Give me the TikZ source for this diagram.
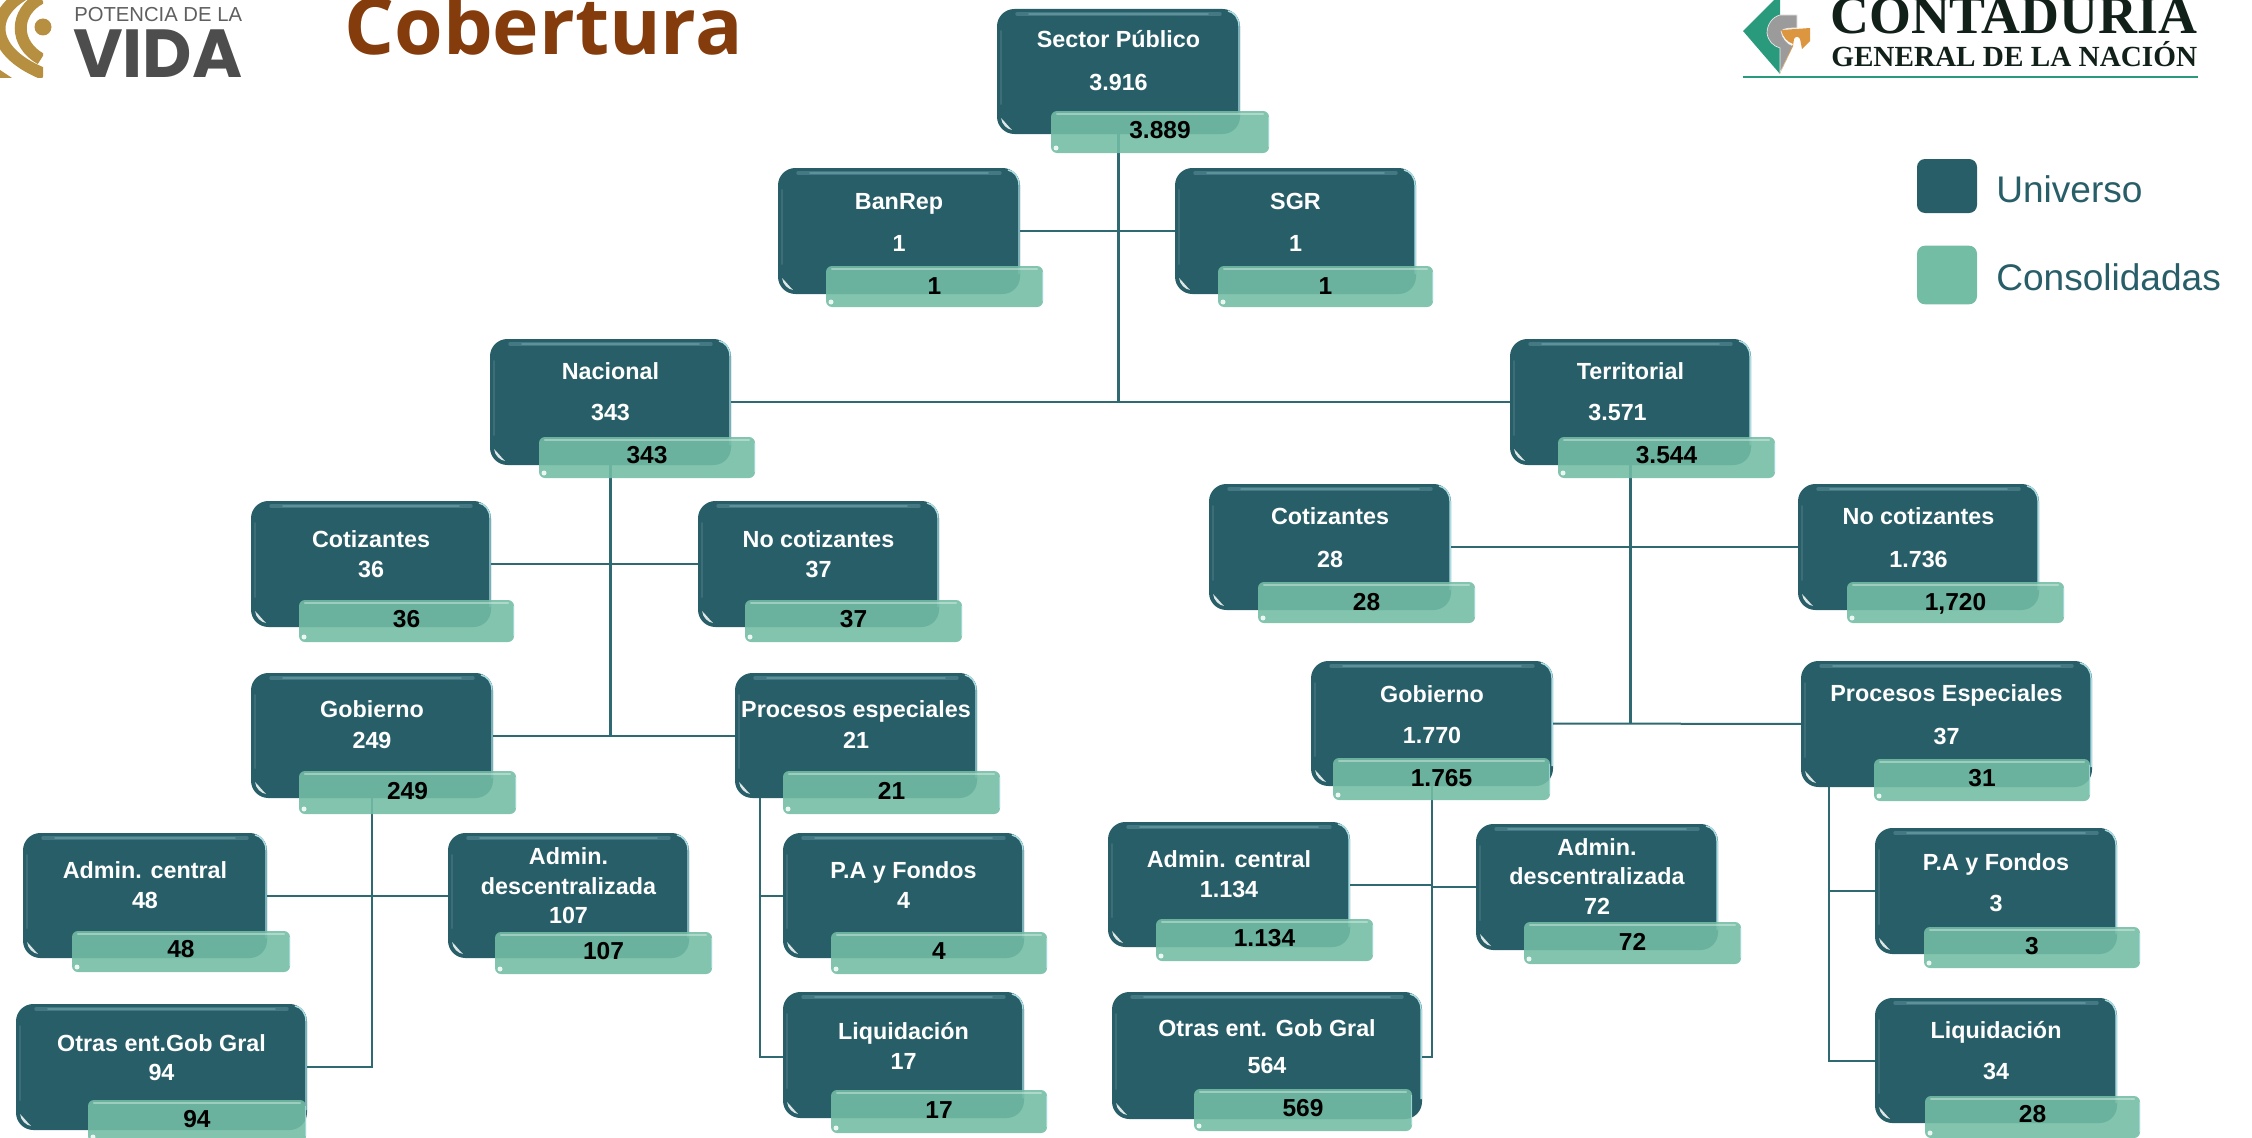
\documentclass[tikz,border=0pt]{standalone}
\usepackage{fontspec}
\setmainfont{Liberation Sans}
\newfontfamily\titlefont{Open Sans}
\newfontfamily\vidafont{Poppins}
\newfontfamily\cgnfont{Liberation Serif}
\usetikzlibrary{backgrounds,calc}
\definecolor{dk}{HTML}{285E68}
\definecolor{gr}{HTML}{73BDA4}
\definecolor{ln}{HTML}{2F6A73}
\definecolor{edgeb}{HTML}{A9DDE3}
\definecolor{gold}{HTML}{B68F40}
\definecolor{vida}{HTML}{4D4D4D}
\definecolor{cgn}{HTML}{2A9A7C}
\definecolor{cgor}{HTML}{DC963F}
\definecolor{cggy}{HTML}{9B9B9B}
\definecolor{brown}{HTML}{843C0C}
\definecolor{ink}{HTML}{12201A}
\tikzset{
  darkbox/.style={fill=dk,draw=none,rounded corners=13pt,inner sep=0pt,outer sep=0pt},
  greenbox/.style={fill=gr,fill opacity=.89,draw=none,rounded corners=4.5pt,inner sep=0pt,outer sep=0pt},
  lab/.style={text=white,font=\bfseries\fontsize{17.5}{22}\selectfont,inner sep=0pt,anchor=base},
  val/.style={text=black,font=\bfseries\fontsize{18.4}{22}\selectfont,inner sep=0pt,anchor=base},
  trunk/.style={draw=ln,line width=2.2pt},
  branch/.style={draw=ln,line width=1.5pt},
  legtext/.style={text=dk,font=\fontsize{27.8}{32}\selectfont,inner sep=0pt,anchor=base west},
}
\begin{document}
\begin{tikzpicture}[x=0.75pt,y=-0.75pt]
\useasboundingbox (0,0) rectangle (2252,1138);
\clip (0,0) rectangle (2252,1138);
\foreach \nm/\xa/\ya/\xb/\yb/\ga/\gb/\gc/\gd/\tx/\ty/\nx/\nxs/\ny/\vx/\vy in {
 sec/997/9/1240/134/1051/111/1269/153/{Sector Público}/40/{3.916}/0/83/{3.889}/130,
 ban/778/168/1020/294/826/266/1043/307/{BanRep}/201/{1}/0/243/{1}/286,
 sgr/1175/168/1416/294/1218/266/1433/307/{SGR}/201/{1}/0/243/{1}/286,
 nac/490/339/731/465/539/437/755/478/{Nacional}/371/{343}/0/412/{343}/455,
 ter/1510/339/1751/465/1558/437/1775/478/{Territorial}/371/{3.571}/-13/412/{3.544}/455,
 cotn/251/501/491/627/299/600/514/642/{Cotizantes}/539/{36}/0/569/{36}/619,
 nocn/698/501/939/627/745/600/962/642/{No cotizantes}/539/{37}/0/569/{37}/619,
 cott/1209/484/1451/610/1258/582/1475/623/{Cotizantes}/516/{28}/0/559/{28}/602,
 noct/1798/484/2039/610/1847/582/2064/623/{No cotizantes}/516/{1.736}/0/559/{1,720}/602,
 gobn/251/673/493/798/299/771/516/814/{Gobierno}/709/{249}/0/740/{249}/791,
 pron/735/673/977/798/783/771/1000/814/{Procesos especiales}/709/{21}/0/740/{21}/791,
 gobt/1311/661/1553/786/1333/758/1550/800/{Gobierno}/694/{1.770}/0/735/{1.765}/778,
 prot/1801/661/2092/787/1874/759/2090/801/{Procesos Especiales}/693/{37}/0/736/{31}/778,
 admn/23/833/267/958/72/931/290/972/{Admin. central}/870/{48}/0/900/{48}/949,
 dscn/448/833/689/958/495/932/712/974/{descentralizada}/886/{107}/0/915/{107}/951,
 pan/783/833/1024/958/831/932/1047/974/{P.A y Fondos}/870/{4}/0/900/{4}/951,
 liqn/783/992/1024/1118/831/1090/1047/1133/{Liquidación}/1031/{17}/0/1061/{17}/1110,
 otrn/16/1004/307/1130/88/1100/306/1142/{Otras ent.Gob Gral}/1043/{94}/0/1072/{94}/1119,
 admt/1108/822/1350/947/1156/919/1373/961/{Admin. central}/859/{1.134}/0/889/{1.134}/938,
 dsct/1476/824/1718/950/1524/922/1741/964/{descentralizada}/876/{72}/0/906/{72}/942,
 otrt/1112/992/1422/1119/1194/1089/1412/1131/{Otras ent. Gob Gral}/1028/{564}/0/1065/{569}/1108,
 pat/1875/828/2117/954/1924/927/2140/968/{P.A y Fondos}/862/{3}/0/903/{3}/946,
 liqt/1875/998/2117/1123/1925/1096/2140/1138/{Liquidación}/1030/{34}/0/1071/{28}/1114%
}{
  \pgfmathsetmacro\cx{(\xa+\xb)/2}
  \pgfmathsetmacro\cy{(\ya+\yb)/2}
  \pgfmathsetmacro\gx{(\ga+\gc)/2}
  \pgfmathsetmacro\gy{(\gb+\gd)/2}
  \node[darkbox,minimum width={(\xb-\xa)*0.75pt},minimum height={(\yb-\ya)*0.75pt}] (\nm) at (\cx,\cy) {};
  % gloss of the dark box
  \draw[edgeb,opacity=.22,line width=2.6pt,line cap=round] (\xa+20,\ya+5) -- (\xb-20,\ya+5);
  \draw[edgeb,opacity=.25,line width=1.4pt,line cap=round] (\xa+32,\ya+5) -- (\xb-32,\ya+5);
  \draw[white,opacity=.1,line width=1.5pt,line cap=round] (\xa+4,\ya+22) -- (\xa+4,\yb-30);
  \draw[edgeb,line width=1.1pt] (\xb-12,\ya+2) .. controls (\xb-6,\ya+3) and (\xb-1,\ya+9) .. (\xb-1,\ya+17) -- (\xb-1,\yb-20);
  \fill[white,opacity=.85] (\xa+4,\yb-16) .. controls (\xa+5,\yb-9) and (\xa+10,\yb-5) .. (\xa+15,\yb-4) .. controls (\xa+11,\yb-8) and (\xa+8,\yb-12) .. (\xa+4,\yb-16) -- cycle;
  % texts of the dark box
  \node[lab] (\nm-l) at (\cx,\ty+8) {\tx};
  \node[lab] (\nm-n) at (\cx+\nxs,\ny+8) {\nx};
  % green box
  \node[greenbox,minimum width={(\gc-\ga)*0.75pt},minimum height={(\gd-\gb)*0.75pt}] (\nm-g) at (\gx,\gy) {};
  \draw[white,opacity=.35,line width=1.6pt,line cap=round] (\ga+6,\gb+3) -- (\gc-6,\gb+3);
  \draw[edgeb,opacity=.8,line width=1pt] (\gc-.7,\gb+6) -- (\gc-.7,\gd-6);
  \fill[white,opacity=.85] (\ga+5,\gd-5) circle (2.5);
  \node[val] (\nm-v) at (\gx,\vy+8.5) {\vx};
}
% extra first lines of the two three-line boxes
\node[lab] (dscn-x) at (dscn.center |- 0,864) {Admin.};
\node[lab] (dsct-x) at (dsct.center |- 0,855) {Admin.};
% connectors, behind the boxes
\coordinate (jpn) at (760,798);
\coordinate (jpt) at (1829,787);
\coordinate (liqnj) at (760,1057);
\coordinate (otrtj) at (1432,1057);
\begin{pgfonlayer}{background}
  \draw[trunk] (sec) -- (sec |- nac);
  \draw[branch] (ban) -- (sgr);
  \draw[branch] (nac) -- (ter);
  \draw[trunk] (nac) -- (nac |- gobn);
  \draw[branch] (cotn) -- (nocn);
  \draw[branch] (gobn) -- (pron);
  \draw[trunk] (ter) -- (ter |- gobt);
  \draw[branch] (cott) -- (noct);
  \draw[branch] (gobt) -- (prot);
  \draw[trunk] (gobn) -- (gobn |- admn);
  \draw[branch] (gobn |- admn) |- (otrn);
  \draw[branch] (admn) -- (dscn);
  \draw[branch] (jpn) -- (liqnj) -- (liqnj -| liqn.west);
  \draw[branch] (jpn |- pan) -- (pan);
  \draw[branch] (gobt) -- (otrtj) -- (otrtj -| otrt.east);
  \draw[branch] (admt) -- (admt -| gobt);
  \draw[branch] (dsct) -- (dsct -| gobt);
  \draw[branch] (jpt) |- (liqt);
  \draw[branch] (jpt |- pat) -- (pat);
\end{pgfonlayer}
% title
\node[text=brown,font=\titlefont\bfseries\fontsize{59}{60}\selectfont,inner sep=0pt,anchor=base west] (title) at (344,55) {Cobertura};
% legend
\node[fill=dk,rounded corners=6pt,minimum width=45pt,minimum height=40.5pt,inner sep=0pt] (legu) at (1947,186) {};
\node[fill=gr,rounded corners=6pt,minimum width=45pt,minimum height=44pt,inner sep=0pt] (legc) at (1947,275) {};
\node[legtext] (legut) at (1996,202) {Universo};
\node[legtext] (legct) at (1996,290) {Consolidadas};
% left logo
\begin{scope}
  \clip (0,0) rectangle (43,78);
  \draw[gold,line width=9pt] (41,-2) .. controls (14,12) and (14,44) .. (41,59);
  \draw[gold,line width=9pt] (42,-14) .. controls (-14,6) and (-16,50) .. (44,74);
  \fill[gold] (0,70) -- (12,78) -- (0,78) -- cycle;
\end{scope}
\fill[gold] (43,27) circle (8.5);
\node[text=vida!90!white,font=\fontsize{15.2}{18}\selectfont,inner sep=0pt,anchor=base west] (pot) at (74,22) {POTENCIA DE LA};
\node[text=vida,font=\vidafont\bfseries\fontsize{51}{53}\selectfont,inner sep=0pt,anchor=base west] (vida) at (73,78) {VIDA};
% right logo
\fill[cgn] (1743,31) -- (1780,-6) -- (1780,74) -- cycle;
\fill[cggy,draw=white!80!cggy,line width=.5pt] (1797,15) -- (1780,15) .. controls (1772,17) and (1767,25) .. (1767,33) .. controls (1768,41) and (1773,46) .. (1780,48) -- (1780,73) -- (1793,46) .. controls (1787,44) and (1782,38) .. (1781,31) .. controls (1784,28) and (1790,28) .. (1797,28) -- cycle;
\fill[cgor] (1781,30) -- (1810,28) -- (1810,41) -- (1802,49) -- (1800,39) .. controls (1798,36) and (1796,36) .. (1794,39) -- (1793,46) -- (1780,73) -- (1793,44) .. controls (1787,42) and (1783,37) .. (1781,30) -- cycle;
\node[text=ink,font=\cgnfont\bfseries\fontsize{40.4}{42}\selectfont,inner sep=0pt,anchor=base west] (cga) at (1830,34) {CONTADURÍA};
\node[text=ink,font=\cgnfont\bfseries\fontsize{21.9}{24}\selectfont,inner sep=0pt,anchor=base west] (cgb) at (1831,67) {GENERAL DE LA NACIÓN};
\coordinate (cgl) at (1743,77);
\coordinate (cgr) at (2198,77);
\draw[cgn,line width=1.7pt] (cgl) -- (cgr);
\end{tikzpicture}
\end{document}
